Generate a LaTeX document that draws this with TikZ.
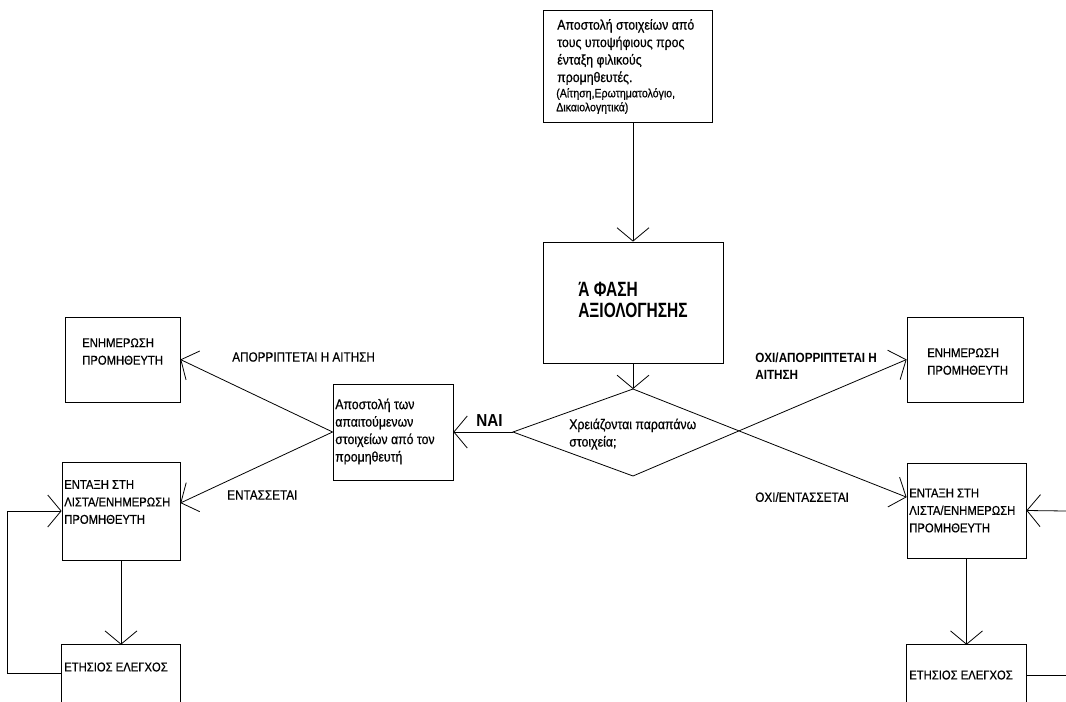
\documentclass[tikz,border=0pt]{standalone}
\usepackage{fontspec}
\setmainfont{Liberation Sans}[FakeStretch=0.88, UprightFeatures={FakeBold=0.6}]
\newfontfamily\titlefont{Liberation Sans}[FakeStretch=0.75]
\usetikzlibrary{arrows.meta,fit}
\begin{document}
\begin{tikzpicture}[x=0.75pt,y=-0.75pt,
  ln/.style={line width=0.6pt, draw=black},
  box/.style={ln, inner sep=0pt},
  obox/.style={draw=none, inner sep=0pt},
  arr/.style={ln, -{Straight Barb[length=10pt,width=24pt]}},
  txt/.style={anchor=west, align=left, inner sep=0pt, font=\fontsize{10.5}{13.1}\selectfont},
  caps/.style={anchor=west, align=left, inner sep=0pt, font=\fontsize{9.6}{13.1}\selectfont},
  small/.style={anchor=west, align=left, inner sep=0pt, font=\fontsize{9}{10.5}\selectfont},
  lbl/.style={anchor=west, align=left, inner sep=0pt, font=\fontsize{10}{13.1}\selectfont},
  blbl/.style={anchor=west, align=left, inner sep=0pt, font=\bfseries\fontsize{10}{13.1}\selectfont}
]
\path[use as bounding box] (0,0) rectangle (1066,702);

% boxes
\node[box, fit={(543,10) (712,122)}] (send) {};
\node[box, fit={(543,242) (723,363)}] (phase) {};
\node[box, fit={(333,384) (453,480)}] (req) {};
\node[box, fit={(65,317) (180,402)}] (linfo) {};
\node[box, fit={(62,462) (180,560)}] (lins) {};
\node[obox, fit={(62,645) (180,702)}] (lyr) {};
\node[box, fit={(907,317) (1023,402)}] (rinfo) {};
\node[box, fit={(907,463) (1026,558)}] (rins) {};
\node[obox, fit={(907,645) (1026,705)}] (ryr) {};
\draw[ln] (lyr.south west) -- (lyr.north west) -- (lyr.north east) -- (lyr.south east);
\draw[ln] (ryr.south west) -- (ryr.north west) -- (ryr.north east) -- (ryr.south east);

% diamond
\coordinate (dtop) at (633,389);
\coordinate (dbot) at (633,476);
\coordinate (dleft) at (513,432);
\coordinate (redge1) at (1066,511);
\coordinate (redge2) at (1066,675);

% texts
\node[txt] (tsend) at (557,52) {Αποστολή στοιχείων από\\τους υποψήφιους προς\\ένταξη φιλικούς\\προμηθευτές.};
\node[small] (tsend2) at (556,101) {(Αίτηση,Ερωτηματολόγιο,\\Δικαιολογητικά)};
\node[anchor=west, align=left, inner sep=0pt, font=\titlefont\bfseries\fontsize{15.5}{15.5}\selectfont] (tphase) at (578,300) {Ά ΦΑΣΗ\\ΑΞΙΟΛΟΓΗΣΗΣ};
\node[txt] (tdq) at (569,434) {Χρειάζονται παραπάνω\\στοιχεία;};
\node[txt] (treq) at (335,431.5) {Αποστολή των\\απαιτούμενων\\στοιχείων από τον\\προμηθευτή};
\node[caps] (tlinfo) at (82,351.5) {ΕΝΗΜΕΡΩΣΗ\\ΠΡΟΜΗΘΕΥΤΗ};
\node[caps] (tlins) at (64,502) {ΕΝΤΑΞΗ ΣΤΗ\\ΛΙΣΤΑ/ΕΝΗΜΕΡΩΣΗ\\ΠΡΟΜΗΘΕΥΤΗ};
\node[caps] (tlyr) at (64,667) {ΕΤΗΣΙΟΣ ΕΛΕΓΧΟΣ};
\node[caps] (trinfo) at (927,361.5) {ΕΝΗΜΕΡΩΣΗ\\ΠΡΟΜΗΘΕΥΤΗ};
\node[caps] (trins) at (909,510.5) {ΕΝΤΑΞΗ ΣΤΗ\\ΛΙΣΤΑ/ΕΝΗΜΕΡΩΣΗ\\ΠΡΟΜΗΘΕΥΤΗ};
\node[caps] (tryr) at (909,675) {ΕΤΗΣΙΟΣ ΕΛΕΓΧΟΣ};

% labels
\node[anchor=west, inner sep=0pt, font=\bfseries\fontsize{13}{14}\selectfont] (lnai) at (476,421) {ΝΑΙ};
\node[lbl] (lrej) at (232,357) {ΑΠΟΡΡΙΠΤΕΤΑΙ Η ΑΙΤΗΣΗ};
\node[lbl] (lent) at (227,495) {ΕΝΤΑΣΣΕΤΑΙ};
\node[blbl] (lrej2) at (755,366) {ΟΧΙ/ΑΠΟΡΡΙΠΤΕΤΑΙ Η\\ΑΙΤΗΣΗ};
\node[lbl] (lent2) at (755,497) {ΟΧΙ/ΕΝΤΑΣΣΕΤΑΙ};

% connectors
\draw[arr] (send.south -| phase.north) -- (phase.north);
\draw[arr] (phase.south) -- (dtop);
\draw[ln] (dtop) -- (dleft) -- (dbot);
\draw[arr] (dleft) -- (req.east);
\draw[arr] (dtop) -- ([yshift=10pt]rins.west);
\draw[arr] (dbot) -- (rinfo.west);
\draw[arr] (req.west) -- (linfo.east);
\draw[arr] (req.west) -- ([yshift=6pt]lins.east);
\draw[arr] (lins.south) -- (lyr.north);
\draw[arr] (lyr.west) -- ++(-54,0) |- (lins.west);
\draw[arr] (redge1) -- (rins.east);
\draw[arr] (rins.south) -- (ryr.north);
\draw[ln] (ryr.east) -- (redge2);
\end{tikzpicture}
\end{document}
